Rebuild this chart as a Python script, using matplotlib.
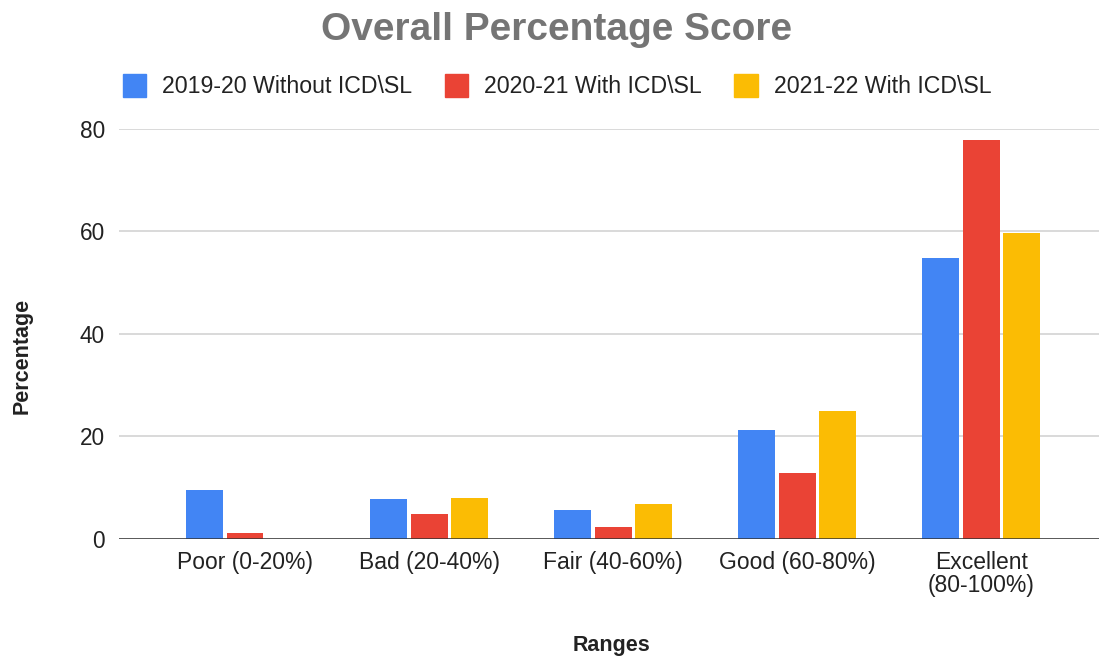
import matplotlib
matplotlib.use("Agg")
import matplotlib.pyplot as plt
import matplotlib.patches as mpatches
import numpy as np

# ── Data ───────────────────────────────────────────────────────────────────────
categories   = ["Poor (0-20%)", "Bad (20-40%)", "Fair (40-60%)",
                "Good (60-80%)", "Excellent\n(80-100%)"]
series_names = ["2019-20 Without ICD\\SL", "2020-21 With ICD\\SL", "2021-22 With ICD\\SL"]
vals_2019    = [9.5, 7.7, 5.7, 21.2, 54.9]
vals_2020    = [1.2, 4.9, 2.3, 12.9, 77.9]
vals_2021    = [0.0, 8.0, 6.8, 25.0, 59.7]
y_ticks      = [0, 20, 40, 60, 80]

colors = ["#4285F4", "#EA4335", "#FBBC04"]
series = [vals_2019, vals_2020, vals_2021]

plt.rcParams["font.family"] = ["Liberation Sans", "DejaVu Sans"]

W, H = 1099, 660
fig = plt.figure(figsize=(W / 100, H / 100), dpi=100)
fig.patch.set_facecolor("white")

# plot area in pixels: x 119..1099, y 129..538.7
ax = fig.add_axes([119 / W, (H - 538.7) / H, 1 - 119 / W, (538.7 - 129) / H])

x = np.arange(len(categories))
bar_w = 0.2
step = 0.221
for i, (vals, c) in enumerate(zip(series, colors)):
    ax.bar(x + (i - 1) * step, vals, width=bar_w, color=c, zorder=2)

ax.set_xlim(-0.685, 4.64)
ax.set_ylim(0, 80)
ax.set_yticks(y_ticks)
ax.set_xticks(x)
ax.set_xticklabels(categories, linespacing=1.05)

for s in ax.spines.values():
    s.set_visible(False)
ax.yaxis.grid(True, color="#cfcfcf", linewidth=1.1, zorder=0)
ax.set_axisbelow(True)
ax.axhline(0, color="#333333", linewidth=1.8, zorder=3)

ax.tick_params(axis="y", length=0, pad=10, labelsize=16.3, labelcolor="#222222")
ax.tick_params(axis="x", length=0, pad=8.5, labelsize=16.5, labelcolor="#222222")

# ── Titles / labels ────────────────────────────────────────────────────────────
fig.text(557 / W, 1 - 40.3 / H, "Overall Percentage Score", ha="center", va="baseline",
         fontsize=28, fontweight="bold", color="#757575")
fig.text(22 / W, 1 - 356 / H, "Percentage", rotation=90, ha="center", va="center",
         fontsize=15.5, fontweight="bold", color="#222222")
fig.text(611 / W, 1 - 651 / H, "Ranges", ha="center", va="baseline",
         fontsize=15.5, fontweight="bold", color="#222222")

# ── Legend ─────────────────────────────────────────────────────────────────────
handles = [mpatches.Patch(color=c, label=n) for c, n in zip(colors, series_names)]
leg = fig.legend(handles=handles, loc="center", bbox_to_anchor=(557 / W, 1 - 86 / H),
                 ncol=3, frameon=False, fontsize=16.7, handlelength=1.0, handleheight=1.2,
                 handletextpad=0.7, columnspacing=1.4, borderpad=0)
for t in leg.get_texts():
    t.set_color("#222222")

fig.savefig("out.png", dpi=100)
plt.close()
